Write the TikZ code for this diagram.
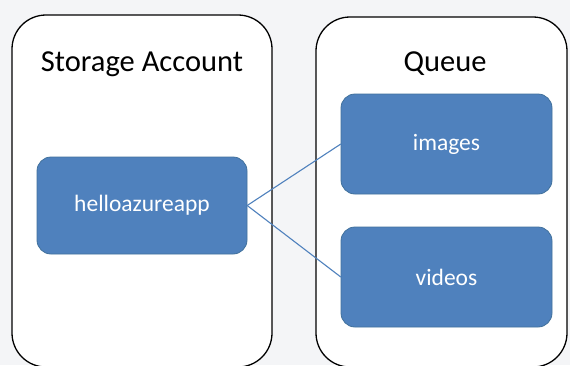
\documentclass[tikz,border=0pt]{standalone}
\usepackage{fontspec}
\setmainfont{Carlito}
\definecolor{bg}{HTML}{F4F5F7}
\definecolor{boxblue}{HTML}{4F81BD}
\definecolor{boxedge}{HTML}{41719C}
\begin{document}
\begin{tikzpicture}[x=1pt,y=-1pt,
  container/.style={draw=black,line width=1.3pt,fill=white,rounded corners=34pt},
  bluebox/.style={draw=boxedge,line width=0.8pt,fill=boxblue,rounded corners=14pt},
  boxtext/.style={text=white,font=\fontsize{23.5}{26}\selectfont},
  titletext/.style={text=black,font=\fontsize{30.5}{33}\selectfont},
  link/.style={draw=boxblue,line width=1.1pt}]
\fill[bg] (0,0) rectangle (570,365);
\useasboundingbox (0,0) rectangle (570,365);
\draw[container] (12,15) rectangle (272,367);
\draw[container] (316,17) rectangle (567,367);
\node[titletext] (t1) at (142,64) {Storage Account};
\node[titletext] (t2) at (445,64) {Queue};
\path[bluebox] (37,157) rectangle (247,254);
\node[boxtext,minimum width=210pt,minimum height=97pt] (app) at (142,205.5) {helloazureapp};
\path[bluebox] (341,94) rectangle (552,194);
\node[boxtext,minimum width=211pt,minimum height=100pt] (img) at (446.5,144) {images};
\path[bluebox] (341,227) rectangle (552,327);
\node[boxtext,minimum width=211pt,minimum height=100pt] (vid) at (446.5,277) {videos};
\draw[link] (app.east) -- (img.west);
\draw[link] (app.east) -- (vid.west);
\end{tikzpicture}
\end{document}
